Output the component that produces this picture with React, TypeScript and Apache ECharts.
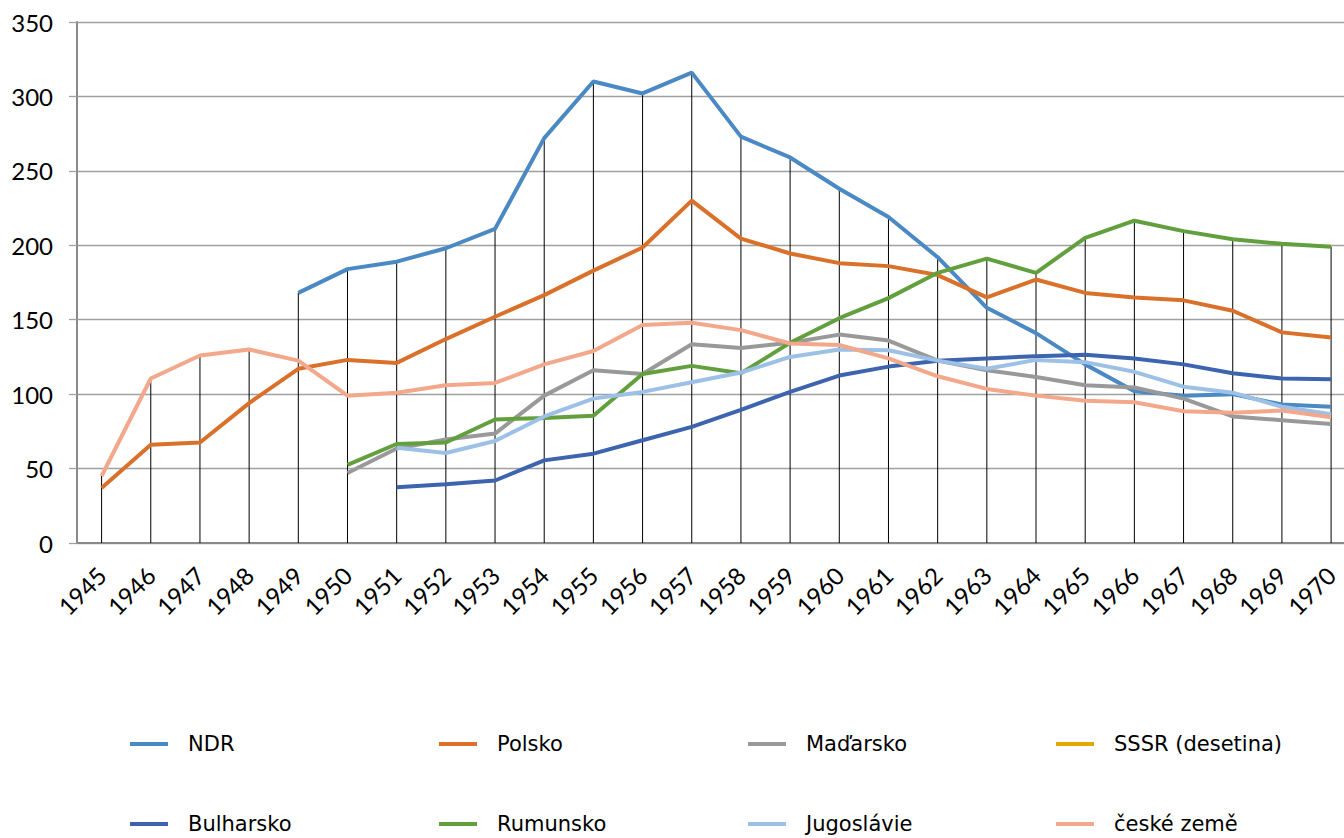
import React, { useEffect, useRef } from "react";
import * as echarts from "echarts";

const years = ["1945","1946","1947","1948","1949","1950","1951","1952","1953","1954","1955","1956","1957","1958","1959","1960","1961","1962","1963","1964","1965","1966","1967","1968","1969","1970"];

const ndr = [null,null,null,null,168,184,189,198,211,272,310,302,316,273,259,238,219,192,158,141,120,102,99,100,93,91.5];
const polsko = [37,66,67.5,94,117,123,121,137,152,166.5,183,198.5,230,204.5,194.5,188,186,180,165,177,168,165,163,156,141.5,138];
const madarsko = [null,null,null,null,null,47,63.5,69.5,73.5,99,116,113.5,133.5,131,134.5,140,136,122.5,116,111.5,106,104.5,97,85,82.5,80];
const sssr = [null,null,null,null,null,null,null,null,null,null,null,null,null,null,null,null,null,null,null,null,null,null,null,null,null,null];
const bulharsko = [null,null,null,null,null,null,37.5,39.5,42,55.5,60,69,78,89.5,101.5,112.5,118.5,122.5,124,125.5,126.5,124,120,114,110.5,110];
const rumunsko = [null,null,null,null,null,52.5,66.5,67.5,83,84,85.5,113.5,119,114,134.5,151,164.5,181.5,191,181.5,205,216.5,209.5,204,201,199];
const jugoslavie = [null,null,null,null,null,null,64,60.5,68.5,85,97,101.5,108,114.5,125,130,129.5,122.5,117,123,121.5,115,105,101,91.5,86.5];
const ceske = [45,110.5,126,130,122.5,99,101,106,107.5,120,129,146.5,148,143,134,133,124,112,103.5,99,95.5,94.5,88.5,87.5,89,84.5];

const seriesNames = ["NDR","Polsko","Maďarsko","SSSR (desetina)","Bulharsko","Rumunsko","Jugoslávie","české země"];
const seriesData = [ndr, polsko, madarsko, sssr, bulharsko, rumunsko, jugoslavie, ceske];
const seriesColors = ["#4a89c3","#d9712b","#999999","#e3a900","#3d64ae","#62a03e","#9dc1e6","#f3a88b"];

const FONT = "Lato";
const LEGEND_FONT = "DejaVu Sans";

export default function App() {
  const ref = useRef<HTMLDivElement>(null);
  useEffect(() => {
    if (!ref.current) return;
    const chart = echarts.init(ref.current, undefined, { renderer: "svg" });

    const dropValues = years.map((_, i) => {
      let m: number | null = null;
      seriesData.forEach((arr) => {
        const v = arr[i];
        if (v != null && (m == null || v > m)) m = v;
      });
      return m;
    });

    const legendCols = [130, 439, 748, 1056];
    const legendRows = [732, 812];
    const legends = seriesNames.map((name, i) => ({
      data: [name],
      left: legendCols[i % 4],
      top: legendRows[Math.floor(i / 4)],
      padding: 0,
      icon: "rect",
      itemWidth: 38,
      itemHeight: 4,
      selectedMode: false,
      textStyle: { fontSize: 21, fontFamily: LEGEND_FONT, color: "#000", lineHeight: 24, padding: [0, 0, 0, 15] },
    }));

    chart.setOption({
      animation: false,
      backgroundColor: "#fff",
      textStyle: { fontFamily: FONT },
      legend: legends,
      grid: { left: 77, top: 22, width: 26 * 49.18, height: 521, containLabel: false, outerBoundsMode: "none" },
      xAxis: {
        type: "category",
        data: years,
        boundaryGap: true,
        axisLine: { show: true, lineStyle: { color: "#8a8a8a", width: 2 } },
        axisTick: { show: false },
        axisLabel: { interval: 0, rotate: 45, fontSize: 24, fontFamily: FONT, color: "#000", margin: 28 },
        splitLine: { show: false },
      },
      yAxis: {
        type: "value",
        min: 0,
        max: 350,
        interval: 50,
        axisLine: { show: true, lineStyle: { color: "#8a8a8a", width: 2 } },
        axisTick: { show: true, length: 8, lineStyle: { color: "#a0a0a0", width: 1.3 } },
        axisLabel: { fontSize: 24, fontFamily: FONT, color: "#000", margin: 24 },
        splitLine: { show: true, lineStyle: { color: "#a0a0a0", width: 1.3 } },
      },
      series: [
        {
          name: "drop",
          type: "bar",
          data: dropValues,
          barWidth: 1,
          itemStyle: { color: "#000" },
          silent: true,
          z: 1,
        },
        ...seriesNames.map((name, i) => ({
          name,
          type: "line",
          data: seriesData[i],
          showSymbol: false,
          symbol: "none",
          connectNulls: false,
          lineStyle: { color: seriesColors[i], width: 4 },
          itemStyle: { color: seriesColors[i] },
          z: 2,
        })),
      ],
    });
    return () => chart.dispose();
  }, []);
  return <div ref={ref} style={{ position: "fixed", left: 0, top: 0, width: 1344, height: 838 }} />;
}
